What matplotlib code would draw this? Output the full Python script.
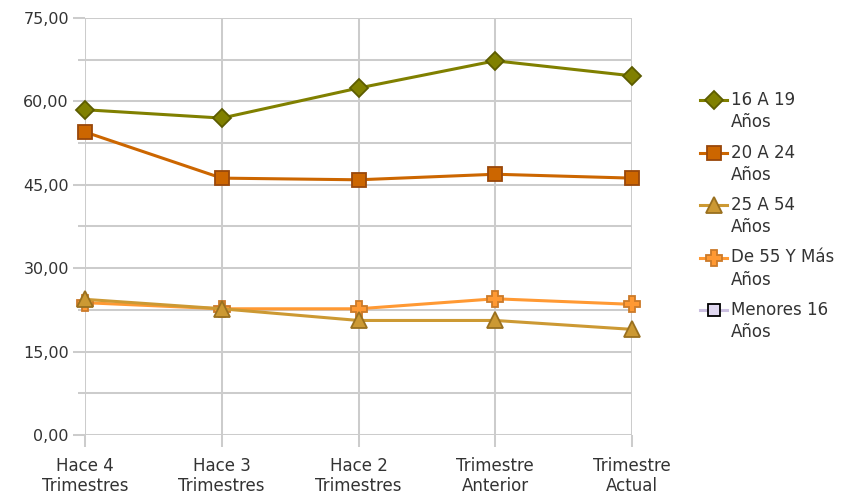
import numpy as np
import matplotlib.pyplot as plt
from matplotlib.lines import Line2D
from matplotlib.ticker import MultipleLocator, FuncFormatter

# Datos
categorias = ['Hace 4\nTrimestres', 'Hace 3\nTrimestres', 'Hace 2\nTrimestres',
              'Trimestre\nAnterior', 'Trimestre\nActual']
s16_19 = [58.5, 57.0, 62.4, 67.3, 64.6]
s20_24 = [54.5, 46.2, 45.9, 46.9, 46.2]
s25_54 = [24.4, 22.7, 20.6, 20.6, 19.0]
s55_mas = [23.8, 22.7, 22.7, 24.5, 23.5]
menores16 = []

nombres = ['16 A 19\nAños', '20 A 24\nAños', '25 A 54\nAños', 'De 55 Y Más\nAños', 'Menores 16\nAños']
colores = ['#808000', '#cc6600', '#cc9933', '#ff9933', '#cbbfe0']
bordes = ['#5c5c00', '#99470a', '#99701f', '#cc7a29', '#000000']
rellenos = ['#808000', '#cc6600', '#cc9933', '#ff9933', '#e0d8f0']
marcadores = ['D', 's', '^', 'P', 's']
tamanos = [9.5, 9.5, 12, 11.5, 8]

plt.rcParams['font.family'] = ['DejaVu Sans']
W, H = 844, 503
fig = plt.figure(figsize=(W / 100, H / 100), dpi=100)
ax = fig.add_axes([85 / W, (H - 435) / H, (632 - 85) / W, (435 - 18) / H])

x = np.arange(len(categorias))
series = [s16_19, s20_24, s25_54, s55_mas, menores16]
for i in [4, 2, 3, 1, 0]:
    y = series[i]
    ax.plot(x[:len(y)], y, color=colores[i], lw=2.2, marker=marcadores[i], ms=tamanos[i],
            markerfacecolor=rellenos[i], markeredgecolor=bordes[i], mew=1.3,
            clip_on=False, zorder=3 + (4 - i) * 0.1)

ax.set_xlim(0, 4)
ax.set_ylim(0, 75)
ax.set_xticks(x)
ax.set_xticklabels(categorias)
ax.yaxis.set_major_locator(MultipleLocator(15))
ax.yaxis.set_minor_locator(MultipleLocator(7.5))
ax.yaxis.set_major_formatter(FuncFormatter(lambda v, p: f'{v:.2f}'.replace('.', ',')))

for s in ax.spines.values():
    s.set_visible(False)
gris = '#cccccc'
ax.grid(True, which='major', color=gris, lw=1.45)
ax.grid(True, which='minor', axis='y', color=gris, lw=1.45)
ax.tick_params(axis='both', which='major', length=8.6, width=1.45, color=gris,
               labelsize=12, labelcolor='#333333')
ax.tick_params(axis='y', which='major', pad=3, labelsize=11.5)
ax.tick_params(axis='x', which='major', pad=7)
ax.tick_params(axis='y', which='minor', length=5, width=1.45, color=gris)
ax.set_axisbelow(True)

# Leyenda a la derecha, marcador alineado con la primera línea del texto
y0, paso = 100, 52.5
for i, nombre in enumerate(nombres):
    yc = (H - (y0 + i * paso)) / H
    fig.add_artist(Line2D([700 / W, 727 / W], [yc, yc], color=colores[i], lw=2.2,
                          transform=fig.transFigure))
    fig.add_artist(Line2D([713.5 / W], [yc], marker=marcadores[i], ms=tamanos[i],
                          markerfacecolor=rellenos[i], markeredgecolor=bordes[i],
                          mew=1.3, transform=fig.transFigure))
    fig.text(731 / W, yc + 9 / H, nombre, fontsize=12, color='#333333',
             va='top', ha='left', linespacing=1.3)

fig.savefig('out.png', dpi=100)
